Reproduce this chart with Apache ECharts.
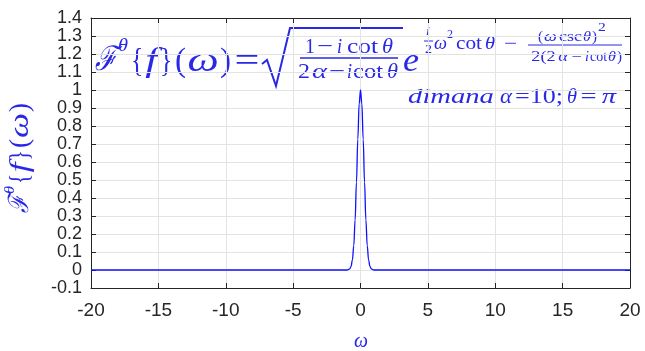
<!DOCTYPE html>
<html><head><meta charset="utf-8">
<script src="https://cdn.jsdelivr.net/npm/echarts@6/dist/echarts.min.js"></script>
<style>html,body{margin:0;padding:0;background:#fff}#c{width:645px;height:351px}</style>
</head><body><div id="c"></div>
<script>
const omega = [-20, -1, -0.8, -0.7, -0.6, -0.5, -0.4, -0.3, -0.2, -0.1, 0, 0.1, 0.2, 0.3, 0.4, 0.5, 0.6, 0.7, 0.8, 1, 20];
const amplitude = [0, 0, 0.006, 0.02, 0.056, 0.135, 0.278, 0.487, 0.726, 0.923, 1, 0.923, 0.726, 0.487, 0.278, 0.135, 0.056, 0.02, 0.006, 0, 0];
const xTicks = [-20, -15, -10, -5, 0, 5, 10, 15, 20];
const yRange = [-0.1, 1.4];

const blue = '#2828e6';
const serif = 'Liberation Serif';
const axisCol = '#262626';
const ctx = document.createElement('canvas').getContext('2d');
function fontStr(size, italic) { return (italic ? 'italic ' : '') + size + 'px "' + serif + '"'; }
// place a text piece into horizontal box [x1,x2], vertically centred at yc
function fit(x1, x2, yc, text, size, italic) {
  const f = fontStr(size, italic);
  ctx.font = f;
  const w = ctx.measureText(text).width || 1;
  const s = Math.max(0.75, Math.min(1.3, (x2 - x1) / w));
  const x = x1 + ((x2 - x1) - w * s) / 2;
  return {type: 'text', x: x, y: yc, scaleX: s,
    style: {text: text, font: f, fill: blue, textVerticalAlign: 'middle', textAlign: 'left'}};
}
const I = true, N = false;
const common = {
  axisLine: {show: true, onZero: false, lineStyle: {color: axisCol, width: 1}},
  axisTick: {show: true, inside: true, length: 5, lineStyle: {color: axisCol}},
};
const chart = echarts.init(document.getElementById('c'));
const yl = [
  fit(-55, -37, 0, 'ℱ', 28, I),
  fit(-36, -28, -11, 'θ', 15, I),
  fit(-25, -17, 0, '{', 28, N),
  fit(-16, -3, 0, 'f', 28, I),
  fit(-2, 7, 0, '}', 28, N),
  fit(10, 19, 0, '(', 28, N),
  fit(20, 45, 0, 'ω', 28, I),
  fit(46, 55, 0, ')', 28, N)
];
chart.setOption({
  animation: false,
  grid: {left: 91, right: 15, top: 18, bottom: 63, show: false},
  xAxis: [
    Object.assign({type: 'value', min: xTicks[0], max: xTicks[xTicks.length - 1], interval: 5,
      axisLabel: {color: axisCol, fontSize: 19, fontFamily: 'Liberation Sans', margin: 13},
      splitLine: {show: true, lineStyle: {color: '#e3e3e3'}}}, common),
    Object.assign({type: 'value', position: 'top', min: xTicks[0], max: xTicks[xTicks.length - 1], interval: 5,
      axisLabel: {show: false}, splitLine: {show: false}}, common)
  ],
  yAxis: [
    Object.assign({type: 'value', min: yRange[0], max: yRange[1], interval: 0.1,
      axisLabel: {color: axisCol, fontSize: 18, fontFamily: 'Liberation Sans', margin: 9,
        formatter: v => String(+v.toFixed(1))},
      splitLine: {show: true, lineStyle: {color: '#e3e3e3'}}}, common),
    Object.assign({type: 'value', position: 'right', min: yRange[0], max: yRange[1], interval: 0.1,
      axisLabel: {show: false}, splitLine: {show: false}}, common)
  ],
  series: [{
    type: 'line', data: omega.map((w, i) => [w, amplitude[i]]),
    showSymbol: false, smooth: 0.4, smoothMonotone: 'x',
    lineStyle: {color: '#1010ff', width: 1.3}
  }],
  graphic: [
    {type: 'group', x: 21, y: 158, rotation: Math.PI / 2, children: yl},
    fit(354, 368, 341, 'ω', 22, I),
    fit(95, 117, 61, 'ℱ', 34, I),
    fit(118, 128, 46, 'θ', 18, I),
    fit(132, 142, 62, '{', 34, N),
    fit(143, 160, 62, 'f', 34, I),
    fit(160, 172, 62, '}', 34, N),
    fit(175, 186, 62, '(', 34, N),
    fit(187, 219, 62, 'ω', 34, I),
    fit(220, 231, 62, ')', 34, N),
    fit(234, 260, 62, '=', 34, N),
    {type: 'polyline', shape: {points: [[262, 64], [267, 60], [276, 86], [290, 28], [403, 28]]},
      style: {stroke: blue, lineWidth: 2, fill: null}},
    fit(305, 315, 47, '1', 22, N),
    fit(317, 333, 47, '−', 22, N),
    fit(337, 342, 47, 'i', 22, I),
    fit(347, 378, 47, 'cot', 22, N),
    fit(382, 393, 47, 'θ', 22, I),
    {type: 'line', shape: {x1: 300, y1: 58, x2: 398, y2: 58}, style: {stroke: blue, lineWidth: 1.5}},
    fit(298, 310, 72, '2', 22, N),
    fit(312, 327, 72, 'α', 22, I),
    fit(329, 345, 72, '−', 22, N),
    fit(347, 352, 72, 'i', 22, I),
    fit(353, 383, 72, 'cot', 22, N),
    fit(387, 398, 72, 'θ', 22, I),
    fit(403, 419, 62, 'e', 34, I),
    fit(425, 431, 32, 'i', 12, I),
    {type: 'line', shape: {x1: 424, y1: 41, x2: 433, y2: 41}, style: {stroke: blue, lineWidth: 1}},
    fit(425, 432, 50, '2', 12, N),
    fit(434, 447, 44, 'ω', 18, I),
    fit(447, 453, 35, '2', 12, N),
    fit(456, 482, 44, 'cot', 18, N),
    fit(485, 495, 44, 'θ', 18, I),
    fit(498, 523, 44, '−', 18, N),
    fit(538, 543, 37, '(', 14, N),
    fit(544, 557, 37, 'ω', 14, I),
    fit(559, 582, 37, 'csc', 14, N),
    fit(583, 591, 37, 'θ', 14, I),
    fit(592, 597, 37, ')', 14, N),
    fit(598, 606, 28, '2', 12, N),
    {type: 'line', shape: {x1: 528, y1: 45, x2: 622, y2: 45}, style: {stroke: blue, lineWidth: 1}},
    fit(530, 557, 57, '2(2', 14, N),
    fit(557, 569, 57, 'α', 14, I),
    fit(570, 584, 57, '−', 14, N),
    fit(585, 589, 57, 'i', 14, I),
    fit(590, 607, 57, 'cot', 14, N),
    fit(608, 616, 57, 'θ', 14, I),
    fit(617, 622, 57, ')', 14, N),
    fit(405, 497, 97, 'dimana', 22, I),
    fit(500, 512, 97, 'α', 22, I),
    fit(515, 563, 97, '=10;', 22, N),
    fit(567, 577, 97, 'θ', 22, I),
    fit(580, 597, 97, '=', 22, N),
    fit(600, 618, 97, 'π', 22, I)
  ]
});
</script></body></html>
